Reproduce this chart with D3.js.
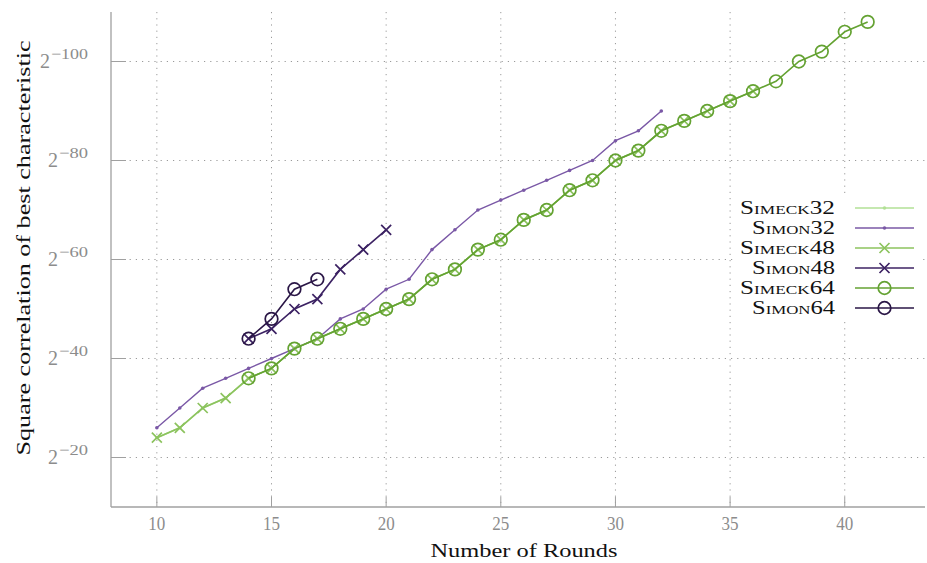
<!DOCTYPE html>
<html><head><meta charset="utf-8">
<script src="https://cdn.jsdelivr.net/npm/d3@7"></script>
<style>
body{margin:0;background:#fff;}
svg{display:block;font-family:"Liberation Serif","DejaVu Serif",serif;}
</style></head>
<body>
<svg id="c" width="927" height="563"></svg>
<script>
// ---- data (exponent e means square correlation 2^-e) ----
const seriesNames = ["Simeck32","Simon32","Simeck48","Simon48","Simeck64","Simon64"];
const simeck32Rounds = [10,11,12,13,14,15,16,17,18,19,20,21,22,23,24,25,26,27,28,29,30,31,32];
const simeck32Values = [24,26,30,32,36,38,42,44,46,48,50,52,56,58,62,64,68,70,74,76,80,82,86];
const simon32Rounds = [10,11,12,13,14,15,16,17,18,19,20,21,22,23,24,25,26,27,28,29,30,31,32];
const simon32Values = [26,30,34,36,38,40,42,44,48,50,54,56,62,66,70,72,74,76,78,80,84,86,90];
const simeck48Rounds = [10,11,12,13,14,15,16,17,18,19,20,21,22,23,24,25,26,27,28,29,30,31,32,33,34,35,36];
const simeck48Values = [24,26,30,32,36,38,42,44,46,48,50,52,56,58,62,64,68,70,74,76,80,82,86,88,90,92,94];
const simon48Rounds = [14,15,16,17,18,19,20];
const simon48Values = [44,46,50,52,58,62,66];
const simeck64Rounds = [14,15,16,17,18,19,20,21,22,23,24,25,26,27,28,29,30,31,32,33,34,35,36,37,38,39,40,41];
const simeck64Values = [36,38,42,44,46,48,50,52,56,58,62,64,68,70,74,76,80,82,86,88,90,92,94,96,100,102,106,108];
const simon64Rounds = [14,15,16,17];
const simon64Values = [44,48,54,56];
const xTicks = [10,15,20,25,30,35,40];
const yTicks = [20,40,60,80,100];
const colors = ["#b2e096","#7a58a6","#8cc35e","#3c2263","#64a232","#2a1646"];
const markers = ["dot","dot","x","x","o","o"];

const rounds = [simeck32Rounds,simon32Rounds,simeck48Rounds,simon48Rounds,simeck64Rounds,simon64Rounds];
const vals = [simeck32Values,simon32Values,simeck48Values,simon48Values,simeck64Values,simon64Values];

const svg = d3.select("#c");
const L=111, R=925, T=12, B=507;
const x = d3.scaleLinear().domain([8,43.5]).range([L,R]);
const y = d3.scaleLinear().domain([10,110]).range([B,T]);
const gridC="#9a9a9a", axisC="#a0a0a0", labC="#8c8c8c";

// grid
const g = svg.append("g");
xTicks.forEach(t=>{
  g.append("line").attr("x1",x(t)).attr("x2",x(t)).attr("y1",T).attr("y2",B)
   .attr("stroke",gridC).attr("stroke-width",1).attr("stroke-dasharray","1.2,5");
  g.append("line").attr("x1",x(t)).attr("x2",x(t)).attr("y1",B).attr("y2",B-10)
   .attr("stroke",axisC).attr("stroke-width",1);
});
yTicks.forEach(t=>{
  g.append("line").attr("x1",L).attr("x2",R).attr("y1",y(t)).attr("y2",y(t))
   .attr("stroke",gridC).attr("stroke-width",1).attr("stroke-dasharray","1.2,5");
  g.append("line").attr("x1",L).attr("x2",L+15).attr("y1",y(t)).attr("y2",y(t))
   .attr("stroke",axisC).attr("stroke-width",1);
});
// axes
svg.append("line").attr("x1",L).attr("x2",L).attr("y1",T).attr("y2",B).attr("stroke",axisC).attr("stroke-width",1.3);
svg.append("line").attr("x1",L).attr("x2",R).attr("y1",B).attr("y2",B).attr("stroke",axisC).attr("stroke-width",1.3);

// tick labels
xTicks.forEach(t=>{
  svg.append("text").attr("x",x(t)).attr("y",530).attr("text-anchor","middle")
   .attr("font-size",19).attr("fill",labC).attr("textLength",17).attr("lengthAdjust","spacingAndGlyphs").text(t);
});
yTicks.forEach(t=>{
  const lab = "\u2212"+t;
  const w = t>=100?37:29;
  svg.append("text").attr("x",88-w-1).attr("y",y(t)+6).attr("text-anchor","end").attr("font-size",20).attr("fill",labC).text("2");
  svg.append("text").attr("x",88).attr("y",y(t)-3).attr("text-anchor","end").attr("font-size",15)
     .attr("fill",labC).attr("textLength",w).attr("lengthAdjust","spacingAndGlyphs").text(lab);
});
// axis titles
svg.append("text").attr("x",524).attr("y",557).attr("text-anchor","middle").attr("font-size",19).attr("fill","#111")
  .attr("textLength",187).attr("lengthAdjust","spacingAndGlyphs").text("Number of Rounds");
svg.append("text").attr("transform","translate(30,248) rotate(-90)").attr("text-anchor","middle")
  .attr("font-size",19).attr("fill","#111").attr("textLength",415).attr("lengthAdjust","spacingAndGlyphs")
  .text("Square correlation of best characteristic");

function drawMarker(sel, type, cx, cy, col){
  if(type==="dot") sel.append("circle").attr("cx",cx).attr("cy",cy).attr("r",1.8).attr("fill",col);
  else if(type==="x"){
    const s=5;
    sel.append("path").attr("d",`M${cx-s},${cy-s}L${cx+s},${cy+s}M${cx-s},${cy+s}L${cx+s},${cy-s}`)
      .attr("stroke",col).attr("stroke-width",1.7).attr("fill","none");
  } else {
    sel.append("circle").attr("cx",cx).attr("cy",cy).attr("r",6.3).attr("fill","none").attr("stroke",col).attr("stroke-width",1.7);
  }
}

const line = d3.line().x(d=>x(d[0])).y(d=>y(d[1]));
seriesNames.forEach((n,i)=>{
  const pts = rounds[i].map((r,j)=>[r,vals[i][j]]);
  const gs = svg.append("g");
  gs.append("path").datum(pts).attr("d",line).attr("fill","none").attr("stroke",colors[i])
    .attr("stroke-width", i===1?1.4:1.6);
  pts.forEach(p=>drawMarker(gs,markers[i],x(p[0]),y(p[1]),colors[i]));
});

// legend
const lg = svg.append("g");
lg.append("rect").attr("x",733).attr("y",197).attr("width",187).attr("height",124).attr("fill","#fff");
seriesNames.forEach((n,i)=>{
  const yy = 208 + i*20;
  const isSimeck = n.startsWith("Simeck");
  lg.append("text").attr("x",835).attr("y",yy+6).attr("text-anchor","end").attr("font-size",19)
    .attr("font-variant","small-caps").attr("fill","#111")
    .attr("textLength",isSimeck?95:83).attr("lengthAdjust","spacingAndGlyphs").text(n);
  lg.append("line").attr("x1",855).attr("x2",914).attr("y1",yy).attr("y2",yy).attr("stroke",colors[i]).attr("stroke-width",1.6);
  drawMarker(lg,markers[i],884.5,yy,colors[i]);
});
</script>
</body></html>
